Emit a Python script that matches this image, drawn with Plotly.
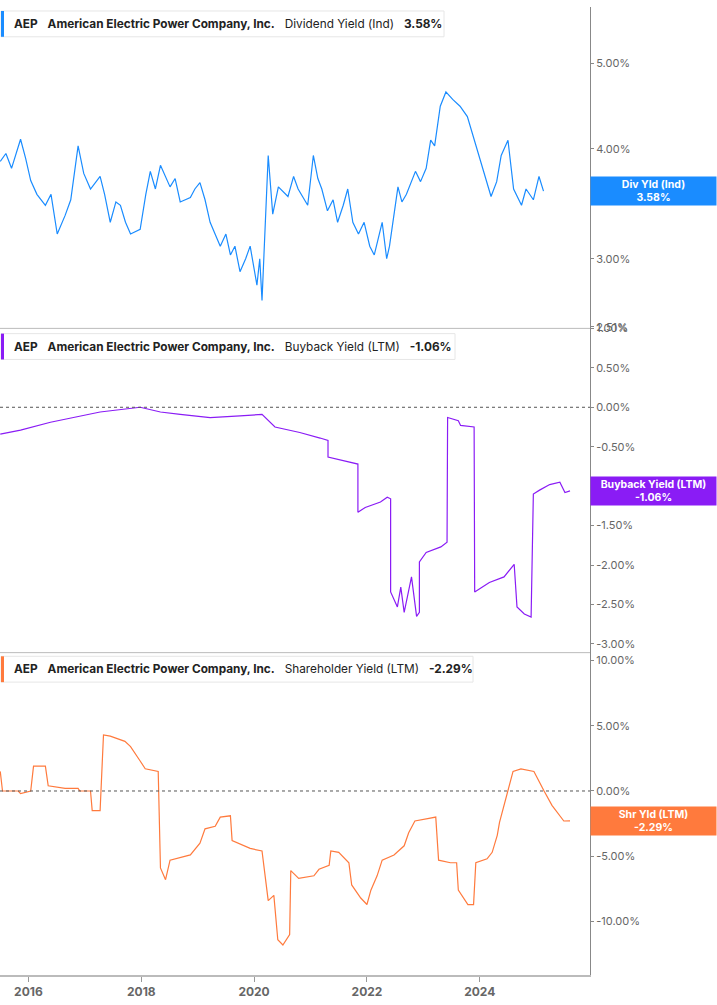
import plotly.graph_objects as go
import pandas as pd

# Dividend yield (decimal years, %)
div_t = [2015.50,2015.60,2015.70,2015.86,2015.95,2016.04,2016.15,2016.30,2016.40,2016.51,2016.65,2016.75,2016.88,2016.98,2017.10,2017.27,2017.35,2017.45,2017.55,2017.63,2017.72,2017.81,2017.98,2018.08,2018.16,2018.25,2018.34,2018.51,2018.60,2018.69,2018.87,2018.95,2019.04,2019.13,2019.22,2019.40,2019.50,2019.58,2019.66,2019.75,2019.85,2019.93,2020.05,2020.10,2020.14,2020.25,2020.33,2020.43,2020.60,2020.70,2020.78,2020.95,2021.05,2021.13,2021.20,2021.30,2021.40,2021.48,2021.58,2021.66,2021.75,2021.85,2021.95,2022.05,2022.13,2022.27,2022.35,2022.40,2022.55,2022.62,2022.70,2022.86,2022.95,2023.05,2023.13,2023.20,2023.30,2023.40,2023.52,2023.65,2023.78,2023.90,2024.02,2024.20,2024.30,2024.38,2024.50,2024.60,2024.74,2024.82,2024.95,2025.05,2025.13,2025.20,2025.33,2025.40,2025.47,2025.55]
div_v = [3.87,3.95,3.80,4.10,3.90,3.68,3.55,3.45,3.55,3.20,3.36,3.50,4.03,3.75,3.60,3.72,3.55,3.30,3.48,3.45,3.30,3.20,3.24,3.55,3.77,3.60,3.83,3.62,3.70,3.48,3.52,3.60,3.66,3.50,3.30,3.10,3.20,3.03,3.10,2.90,3.00,3.10,2.80,3.00,2.69,3.93,3.37,3.62,3.53,3.72,3.60,3.45,3.93,3.70,3.60,3.40,3.50,3.30,3.45,3.60,3.30,3.20,3.30,3.10,3.03,3.30,3.00,3.10,3.62,3.48,3.55,3.77,3.67,3.80,4.09,4.03,4.47,4.64,4.55,4.47,4.35,4.09,3.87,3.53,3.67,3.93,4.09,3.60,3.45,3.60,3.50,3.72,3.58]

# Buyback yield
bb_t = [2015.50,2015.86,2016.39,2017.27,2017.98,2018.34,2018.69,2019.22,2019.75,2020.14,2020.37,2020.81,2021.17,2021.31,2021.31,2021.54,2021.72,2021.84,2021.84,2021.97,2022.24,2022.36,2022.42,2022.42,2022.54,2022.60,2022.66,2022.79,2022.88,2022.93,2022.93,2023.05,2023.31,2023.42,2023.43,2023.62,2023.66,2023.90,2023.91,2024.17,2024.43,2024.61,2024.66,2024.79,2024.91,2024.95,2025.06,2025.24,2025.42,2025.51,2025.60]
bb_v = [-0.34,-0.29,-0.19,-0.06,0.00,-0.06,-0.09,-0.13,-0.11,-0.09,-0.25,-0.32,-0.39,-0.42,-0.63,-0.67,-0.70,-0.72,-1.33,-1.27,-1.20,-1.14,-1.16,-2.34,-2.53,-2.28,-2.60,-2.15,-2.65,-2.60,-1.96,-1.84,-1.77,-1.71,-0.13,-0.17,-0.23,-0.25,-2.34,-2.22,-2.15,-1.99,-2.53,-2.62,-2.66,-1.10,-1.05,-0.98,-0.95,-1.08,-1.06]

# Shareholder yield
sh_t = [2015.50,2015.54,2015.82,2015.86,2016.04,2016.09,2016.30,2016.35,2016.65,2016.88,2016.91,2017.10,2017.13,2017.27,2017.33,2017.45,2017.71,2017.81,2017.98,2018.07,2018.30,2018.34,2018.43,2018.51,2018.87,2019.04,2019.13,2019.31,2019.40,2019.58,2019.61,2019.93,2020.14,2020.19,2020.25,2020.35,2020.42,2020.51,2020.63,2020.65,2020.79,2021.06,2021.15,2021.33,2021.36,2021.50,2021.68,2021.73,2021.89,2022.00,2022.07,2022.18,2022.27,2022.48,2022.66,2022.74,2022.85,2023.10,2023.22,2023.27,2023.48,2023.59,2023.62,2023.79,2023.89,2023.93,2024.13,2024.22,2024.31,2024.35,2024.50,2024.59,2024.73,2024.96,2025.14,2025.28,2025.49,2025.60]
sh_v = [1.5,0.0,0.0,-0.2,0.0,1.9,1.9,0.4,0.2,0.2,0.0,0.0,-1.5,-1.5,4.3,4.2,3.8,3.4,2.3,1.7,1.5,-5.9,-6.8,-5.3,-4.9,-4.0,-2.9,-2.7,-2.0,-1.9,-3.8,-4.4,-4.6,-6.5,-8.4,-8.0,-11.4,-11.8,-11.0,-6.1,-6.7,-6.5,-6.0,-5.7,-4.6,-4.7,-5.5,-7.2,-8.2,-8.7,-7.6,-6.5,-5.3,-4.9,-4.2,-3.2,-2.3,-2.1,-2.0,-5.3,-5.5,-5.5,-7.6,-8.7,-8.7,-5.5,-5.2,-4.7,-3.4,-2.4,0.0,1.5,1.7,1.5,0.0,-1.1,-2.3,-2.29]

def to_dates(ts):
    return [pd.Timestamp("2015-01-01") + pd.Timedelta(days=(t - 2015) * 365.25) for t in ts]

BLUE, PURPLE, ORANGE = "#1a8cff", "#8a1cf5", "#ff7a3d"
fig = go.Figure()
fig.add_trace(go.Scatter(x=to_dates(div_t), y=div_v, mode="lines", line=dict(color=BLUE, width=1.2), xaxis="x", yaxis="y"))
fig.add_trace(go.Scatter(x=to_dates(bb_t), y=bb_v, mode="lines", line=dict(color=PURPLE, width=1.2), xaxis="x", yaxis="y2"))
fig.add_trace(go.Scatter(x=to_dates(sh_t), y=sh_v, mode="lines", line=dict(color=ORANGE, width=1.2), xaxis="x", yaxis="y3"))

ax = dict(side="right", showgrid=False, zeroline=False, showline=True, linecolor="#888", linewidth=1,
          ticks="outside", ticklen=3, tickcolor="#888", tickfont=dict(size=11, color="#666", family="Inter"))
xr = [pd.Timestamp("2015-07-01"), pd.Timestamp("2025-12-15")]
fig.update_layout(
    width=717, height=1005, margin=dict(l=0, r=127, t=0, b=30),
    plot_bgcolor="white", paper_bgcolor="white", showlegend=False,
    font=dict(family="Inter"),
    xaxis=dict(range=xr, showgrid=False, showline=True, linecolor="#bbb", linewidth=2, ticks="outside",
               tickcolor="#999", ticklen=5, tickformat="%Y", dtick="M24", tick0="2016-01-01",
               tickfont=dict(size=12, color="#666", family="Inter", weight="bold"), anchor="y3"),
    yaxis=dict(ax, type="log", domain=[0.668, 1], range=[0.398, 0.763],
               tickvals=[2.51, 3, 4, 5], ticktext=["2.51%", "3.00%", "4.00%", "5.00%"]),
    yaxis2=dict(ax, domain=[0.333, 0.668], range=[-3.11, 1.0],
                tickvals=[-3, -2.5, -2, -1.5, -1, -0.5, 0, 0.5, 1], ticktext=["-3.00%", "-2.50%", "-2.00%", "-1.50%", "", "-0.50%", "0.00%", "0.50%", "1.00%"]),
    yaxis3=dict(ax, domain=[0, 0.333], range=[-14.1, 10.6],
                tickvals=[-10, -5, 0, 5, 10], ticktext=["-10.00%", "-5.00%", "0.00%", "5.00%", "10.00%"]),
)
shapes = []
for yy in [0.668, 0.333]:
    shapes.append(dict(type="line", xref="paper", yref="paper", x0=0, x1=1, y0=yy, y1=yy, line=dict(color="#bbb", width=1)))
for yr in ["y2", "y3"]:
    shapes.append(dict(type="line", xref="paper", yref=yr, x0=0, x1=1, y0=0, y1=0, line=dict(color="#555", width=1, dash="dot")))
ann = []
def legend(ytop_px, text, color, width_px):
    H = 975.0
    y1 = 1 - ytop_px / H
    y0 = 1 - (ytop_px + 26) / H
    shapes.append(dict(type="rect", xref="paper", yref="paper", x0=1/590, x1=width_px/590, y0=y0, y1=y1,
                       line=dict(color="#e6e6e6", width=1), fillcolor="white", layer="above"))
    shapes.append(dict(type="rect", xref="paper", yref="paper", x0=1/590, x1=4/590, y0=y0, y1=y1,
                       line=dict(width=0), fillcolor=color, layer="above"))
    ann.append(dict(xref="paper", yref="paper", x=12/590, y=(y0 + y1) / 2, xanchor="left", yanchor="middle",
                    text=text, showarrow=False, font=dict(size=11.8, color="#222", family="Inter")))
legend(4, "<b>AEP</b>   <b>American Electric Power Company, Inc.</b>   Dividend Yield (Ind)   <b>3.58%</b>", BLUE, 444)
legend(329, "<b>AEP</b>   <b>American Electric Power Company, Inc.</b>   Buyback Yield (LTM)   <b>-1.06%</b>", PURPLE, 455)
legend(654, "<b>AEP</b>   <b>American Electric Power Company, Inc.</b>   Shareholder Yield (LTM)   <b>-2.29%</b>", ORANGE, 473)

def tag(yref, yval, text, color):
    ann.append(dict(xref="paper", yref=yref, x=1, y=yval, xanchor="left", yanchor="middle", text=text,
                    showarrow=False, bgcolor=color, width=123, height=26, align="center",
                    font=dict(size=10.5, color="white", family="Inter", weight="bold")))
tag("y", 0.554, "Div Yld (Ind)<br>3.58%", BLUE)
tag("y2", -1.06, "Buyback Yield (LTM)<br>-1.06%", PURPLE)
tag("y3", -2.29, "Shr Yld (LTM)<br>-2.29%", ORANGE)
fig.update_layout(shapes=shapes, annotations=ann)
fig.write_html("out.html", config={"displayModeBar": False},
               post_script="document.body.style.margin='0';document.body.style.overflow='hidden';")
